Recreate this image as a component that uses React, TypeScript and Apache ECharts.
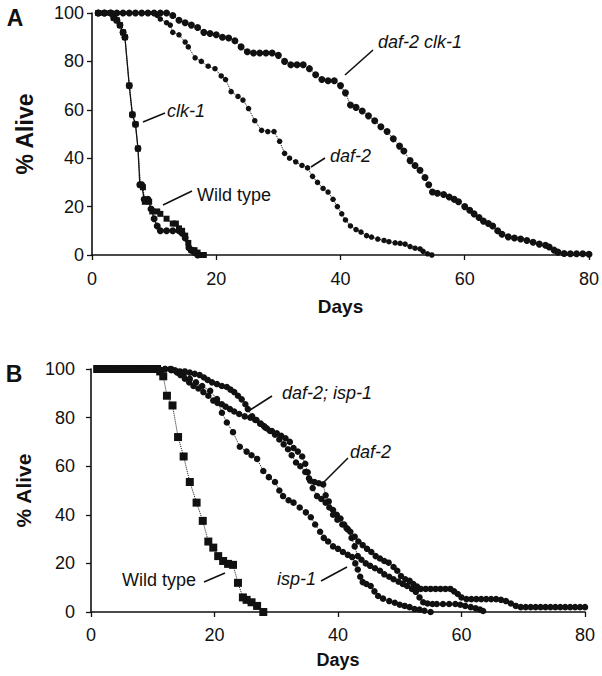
import React, { useEffect, useRef } from "react";
import * as echarts from "echarts";

// ---------- Panel A data: [day, % alive] ----------
const aWildType: [number, number][] = [
  [1, 100], [2, 100], [3, 100], [3.5, 98], [4, 97], [4.5, 95], [5, 92], [5.3, 90],
  [6, 70], [6.5, 58], [7, 54], [7.4, 44], [7.8, 29], [8.2, 28], [8.5, 22], [9.2, 22],
  [9.7, 18], [10.5, 18], [11, 17], [12, 15], [13, 13], [13.5, 13], [14, 11], [14.5, 10],
  [15, 8], [15.5, 5], [16, 2], [16.5, 2], [17, 1], [17.5, 0], [18, 0],
];
const aClk1: [number, number][] = [
  [1, 100], [2, 100], [3, 100], [3.5, 98], [4, 97], [4.5, 95], [5, 92], [5.3, 90],
  [6, 70], [6.5, 58], [7, 54], [7.4, 44], [7.7, 29], [8, 29], [8.4, 23], [9, 23],
  [9.5, 19], [10, 15], [10.5, 12], [11, 10], [12, 10], [13, 10], [14, 10], [14.5, 9],
  [15, 7], [15.6, 3], [16, 2], [16.5, 1], [17, 0],
];
const aDaf2: [number, number][] = [
  [1, 100], [2, 100], [3, 100], [4, 100], [5, 100], [6, 100], [7, 100], [8, 100], [9, 100], [10, 100],
  [10.5, 99], [11, 97.5], [12, 96], [12.6, 95], [13, 92], [14, 91], [15, 88], [15.5, 86],
  [16.6, 81.5], [17.6, 80], [18.7, 78], [19.8, 77], [20.8, 74], [21.5, 72.5], [22.4, 67.5],
  [23.5, 65.5], [24.3, 64], [25.2, 60.5], [26.2, 55.5], [27.3, 51.5], [28.3, 51], [29.3, 51],
  [30.2, 47], [31, 42], [31.8, 40], [32.8, 38.5], [33.8, 37], [34.7, 36], [35.5, 32.5],
  [36.3, 30], [37.2, 27.5], [38, 26], [38.8, 23], [39.5, 20], [40.2, 17], [40.8, 14.5],
  [41.6, 12], [42.5, 10.5], [43.3, 9.5], [44.2, 8], [45, 7.4], [46, 6.6], [47, 6], [47.8, 5.5],
  [48.8, 5], [49.6, 4.8], [50.4, 4.5], [51.2, 3.5], [52, 2.8], [52.8, 2.5], [53.3, 1.5],
  [54, 0.5], [54.7, 0],
];
const aDaf2Clk1: [number, number][] = [
  [1, 100], [2, 100], [3, 100], [4, 100], [5, 100], [6, 100], [7, 100], [8, 100], [9, 100],
  [10, 100], [11, 100], [12, 100], [13, 99], [14, 97], [15, 96], [16, 95], [17, 94], [18, 92],
  [19, 91.5], [20, 91], [21, 90], [22, 89.7], [23, 88.5], [24, 86], [25, 84], [26, 83.5],
  [27, 83.5], [28, 83.5], [29, 83.5], [30, 82.5], [31, 80], [32, 78.6], [33, 78.6], [34, 78.6],
  [35, 77], [36, 74.5], [37, 72.5], [38, 72], [39, 72], [40, 70], [40.8, 67], [41.6, 62],
  [42.5, 61], [43.5, 59.5], [44.5, 57.5], [45.5, 55.5], [46.5, 53], [47.5, 51], [48.5, 48],
  [49.5, 45], [50.2, 43], [51.2, 39], [52, 37], [52.8, 35], [53.6, 32], [54.2, 29], [54.8, 26],
  [55.6, 25.5], [56.6, 25], [57.5, 24], [58.3, 23], [59, 22], [60, 20], [60.8, 18.5],
  [61.5, 17], [62.3, 15.5], [63, 14], [63.8, 13], [64.5, 12], [65.3, 10], [66, 8.6], [67, 7.5],
  [68, 7], [69, 6.6], [70, 6], [71, 5.3], [72, 4.5], [73, 4], [73.6, 3.3], [74.4, 2], [75, 1.2],
  [76, 0.6], [77, 0.5], [78, 0.5], [79, 0.5], [80, 0.3],
];

// ---------- Panel B data: [day, % alive] ----------
const bWildType: [number, number][] = [
  [1, 100], [2, 100], [3, 100], [4, 100], [5, 100], [6, 100], [7, 100], [8, 100], [9, 100],
  [10, 100], [10.7, 100], [11.2, 99], [11.7, 97], [12.3, 89], [13.2, 85], [14.1, 72], [15, 64],
  [16, 53.5], [17.1, 45], [18.1, 37.5], [19, 29], [19.8, 26.5], [20.6, 23], [21.4, 21],
  [22.2, 19.8], [23, 19.4], [23.8, 12], [24.6, 6], [25.2, 5], [26, 4], [26.9, 2.5], [27.9, 0],
];
const bIsp1: [number, number][] = [
  [1, 100], [2, 100], [3, 100], [4, 100], [5, 100], [6, 100], [7, 100], [8, 100], [9, 100],
  [10, 100], [11, 100], [12, 100], [13, 99.5], [14, 98.5], [15, 97.5], [16, 96], [17, 94.5],
  [18, 93], [19.3, 91], [20.4, 87.6], [21.2, 82], [22, 78], [23, 74], [24.1, 68], [25.2, 66],
  [26, 64.5], [26.9, 63], [27.9, 58], [28.8, 55.5], [29.8, 53.5], [30.5, 50], [31.1, 47.7],
  [32, 46], [32.8, 45], [33.8, 43], [34.8, 41], [35.6, 39], [36.3, 36], [37.1, 33], [37.7, 30.5],
  [38.4, 29], [39.2, 27], [40, 26], [40.8, 24.7], [41.6, 23.5], [42.3, 22.6], [42.8, 20],
  [43.2, 17.5], [43.6, 14.5], [44, 12.3], [44.6, 11.5], [45.3, 10.7], [45.9, 8.5], [46.5, 6.6],
  [47.3, 5.5], [48.3, 4.5], [49.2, 3.8], [50, 3], [50.8, 2.5], [51.6, 2], [52.4, 1.2], [53.2, 1],
  [54, 0.5], [55, 0],
];
const bDaf2: [number, number][] = [
  [1, 100], [2, 100], [3, 100], [4, 100], [5, 100], [6, 100], [7, 100], [8, 100], [9, 100],
  [10, 100], [11, 100], [12, 100], [13, 100], [13.8, 99], [14.5, 97.5], [15.2, 96], [15.9, 94.5],
  [16.6, 93], [17.4, 92], [18.2, 90.5], [19, 89], [19.8, 87], [20.5, 86], [21.2, 85.5],
  [21.8, 84.5], [22.5, 83.5], [23.2, 82.5], [24, 81.5], [24.9, 80.5], [25.8, 80], [26.6, 79],
  [27.4, 77.5], [28, 76.5], [28.5, 75.5], [29.3, 74.5], [30.1, 73.5], [30.8, 72.5], [31.5, 71.5],
  [32.2, 70], [32.8, 67.5], [33.5, 66], [34.2, 64], [34.7, 61], [35.1, 57.5], [35.5, 54],
  [36.2, 53.5], [36.9, 53], [37.6, 52.5], [38, 48], [38.5, 45.5], [39.2, 42], [39.8, 40],
  [40.4, 38.5], [41, 36], [41.6, 34], [42.2, 30.5], [42.7, 27], [43.2, 23], [43.8, 21.5],
  [44.5, 20], [45.2, 19], [46, 18], [46.8, 17], [47.5, 15.5], [48.3, 14.5], [49, 13.5],
  [49.8, 12.5], [50.5, 11.5], [51.2, 10.7], [52, 9.5], [52.6, 8.3], [53.2, 6], [53.8, 4],
  [54.5, 3.5], [55.3, 3.3], [56, 3.3], [57, 3.3], [58, 3.3], [59, 3.3], [59.8, 3], [60.6, 2.5],
  [61.5, 2], [62.3, 1.5], [63, 1], [63.5, 0.4],
];
const bDaf2Isp1: [number, number][] = [
  [1, 100], [2, 100], [3, 100], [4, 100], [5, 100], [6, 100], [7, 100], [8, 100], [9, 100],
  [10, 100], [11, 100], [12, 100], [12.8, 100], [13.6, 99.5], [14.4, 99], [15.2, 99], [16, 98.5],
  [16.8, 98], [17.6, 97.5], [18.3, 96.5], [18.9, 95.5], [19.6, 94.5], [20.4, 93.8], [21.2, 93],
  [22, 92.6], [22.6, 91.5], [23.2, 90.5], [23.8, 89], [24.4, 87.5], [25, 85.5], [25.4, 83.5],
  [26.1, 80.5], [26.8, 79], [27.5, 77.5], [28.2, 76], [29, 74.5], [29.8, 73], [30.5, 71],
  [31.2, 69], [31.9, 67], [32.5, 64.5], [33.2, 61.5], [33.9, 60], [34.7, 57.6], [35.3, 55],
  [35.9, 51], [36.6, 47.7], [37.3, 46.5], [38, 45], [38.6, 43], [39.2, 40], [39.9, 38],
  [40.7, 36], [41.4, 34.5], [42, 33], [42.7, 31], [43.3, 29], [44, 27.5], [44.7, 26],
  [45.4, 24.7], [46.1, 23], [46.8, 22], [47.5, 21], [48.2, 20.3], [49, 18.5], [49.6, 17],
  [50.2, 14.8], [50.9, 13.5], [51.6, 12.8], [52.2, 11.5], [52.8, 10.5], [53.4, 9.5], [54.2, 9.5],
  [55, 9.5], [55.8, 9.5], [56.6, 9.5], [57.4, 9.5], [58.2, 9.5], [58.8, 8.5], [59.4, 7.4],
  [60, 6], [60.8, 5.3], [61.6, 5.3], [62.4, 5.3], [63.2, 5.3], [64, 5.3], [64.8, 5.3],
  [65.6, 5.3], [66.4, 5], [67.2, 4.5], [68, 3.5], [68.8, 2.5], [69.6, 2], [70.4, 2], [71.2, 2],
  [72, 2], [72.8, 2], [73.6, 2], [74.4, 2], [75.2, 2], [76, 2], [76.8, 2], [77.6, 2], [78.4, 2],
  [79.2, 2], [80, 2],
];

const yTicks = [0, 20, 40, 60, 80, 100];
const xTicks = [0, 20, 40, 60, 80];

const INK = "#111";
const FONT = "'Liberation Sans', Arial, Helvetica, sans-serif";

function lineSeries(
  name: string,
  data: [number, number][],
  idx: number,
  symbol: string,
  size: number,
  lineType: "solid" | "dotted",
  lineWidth: number
) {
  return {
    name,
    type: "line",
    xAxisIndex: idx,
    yAxisIndex: idx,
    data,
    symbol,
    symbolSize: size,
    showSymbol: true,
    lineStyle: { color: INK, width: lineWidth, type: lineType },
    itemStyle: { color: INK, borderWidth: 0 },
    emphasis: { disabled: true },
    z: 3,
  };
}

function txt(text: string, x: number, y: number, size: number, italic = false, bold = false, align = "left") {
  return {
    type: "text",
    x,
    y,
    style: {
      text,
      fill: INK,
      font: `${italic ? "italic " : ""}${bold ? "bold " : ""}${size}px ${FONT}`,
      textAlign: align,
      textVerticalAlign: "middle",
    },
    silent: true,
  };
}

function seg(x1: number, y1: number, x2: number, y2: number) {
  return {
    type: "line",
    shape: { x1, y1, x2, y2 },
    style: { stroke: INK, lineWidth: 1.6 },
    silent: true,
  };
}

export default function App() {
  const ref = useRef<HTMLDivElement>(null);

  useEffect(() => {
    if (!ref.current) return;
    const chart = echarts.init(ref.current, undefined, { renderer: "svg" });

    const yAxisBase = (gridIndex: number, margin: number, nameGap: number, nameSize: number) => ({
      type: "value",
      gridIndex,
      min: 0,
      max: 100,
      interval: 20,
      name: "% Alive",
      nameLocation: "middle",
      nameGap,
      nameRotate: 90,
      nameTextStyle: { fontFamily: FONT, fontWeight: "bold", fontSize: nameSize, color: INK },
      axisLine: { show: true, lineStyle: { color: INK, width: 1.6 } },
      axisTick: { show: true, inside: false, length: 5, lineStyle: { color: INK, width: 1.3 } },
      axisLabel: {
        margin,
        fontFamily: FONT,
        fontSize: 18,
        color: INK,
        formatter: (v: number) => (yTicks.includes(v) ? String(v) : ""),
      },
      splitLine: { show: false },
    });

    const xAxisBase = (gridIndex: number, margin: number, nameGap: number, nameSize: number) => ({
      type: "value",
      gridIndex,
      min: 0,
      max: 80,
      interval: 20,
      name: "Days",
      nameLocation: "middle",
      nameGap,
      nameTextStyle: { fontFamily: FONT, fontWeight: "bold", fontSize: nameSize, color: INK },
      axisLine: { show: true, onZero: false, lineStyle: { color: INK, width: 1.6 } },
      axisTick: { show: true, inside: false, length: 5, lineStyle: { color: INK, width: 1.3 } },
      axisLabel: {
        margin,
        fontFamily: FONT,
        fontSize: 18,
        color: INK,
        formatter: (v: number) => (xTicks.includes(v) ? String(v) : ""),
      },
      splitLine: { show: false },
    });

    chart.setOption({
      animation: false,
      backgroundColor: "#fff",
      grid: [
        { left: 92, top: 13, width: 500, height: 242 },
        { left: 91, top: 369, width: 494, height: 243 },
      ],
      xAxis: [xAxisBase(0, 15, 42, 19), xAxisBase(1, 14, 39, 18)],
      yAxis: [yAxisBase(0, 8, 56, 23), yAxisBase(1, 16, 57, 21)],
      series: [
        lineSeries("Wild type (A)", aWildType, 0, "rect", 6, "dotted", 1),
        lineSeries("clk-1", aClk1, 0, "circle", 7, "solid", 1.3),
        lineSeries("daf-2 (A)", aDaf2, 0, "circle", 5.5, "dotted", 1),
        lineSeries("daf-2 clk-1", aDaf2Clk1, 0, "circle", 7, "dotted", 1),
        lineSeries("Wild type (B)", bWildType, 1, "rect", 8, "dotted", 1),
        lineSeries("isp-1", bIsp1, 1, "circle", 6.5, "dotted", 1),
        lineSeries("daf-2 (B)", bDaf2, 1, "circle", 6.5, "dotted", 1),
        lineSeries("daf-2; isp-1", bDaf2Isp1, 1, "circle", 6.5, "dotted", 1),
      ],
      graphic: [
        txt("A", 15, 18, 23, false, true, "center"),
        txt("B", 14, 374, 23, false, true, "center"),
        // Panel A annotations
        txt("daf-2 clk-1", 378, 42, 18, true),
        seg(373, 50, 345, 75),
        txt("clk-1", 167, 111, 18, true),
        seg(165, 113, 143, 122),
        txt("daf-2", 330, 156, 18, true),
        seg(325, 158, 311, 167),
        txt("Wild type", 197, 195, 18),
        seg(192, 191, 163, 205),
        // Panel B annotations
        txt("daf-2; isp-1", 282, 393, 18, true),
        seg(272, 396, 250, 410),
        txt("daf-2", 350, 452, 18, true),
        seg(348, 458, 323, 483),
        txt("isp-1", 277, 579, 18, true),
        seg(321, 581, 347, 567),
        txt("Wild type", 122, 580, 18),
        seg(204, 582, 225, 573),
      ],
    });

    return () => chart.dispose();
  }, []);

  return (
    <div
      ref={ref}
      style={{ position: "absolute", left: 0, top: 0, width: 602, height: 676, background: "#fff" }}
    />
  );
}
